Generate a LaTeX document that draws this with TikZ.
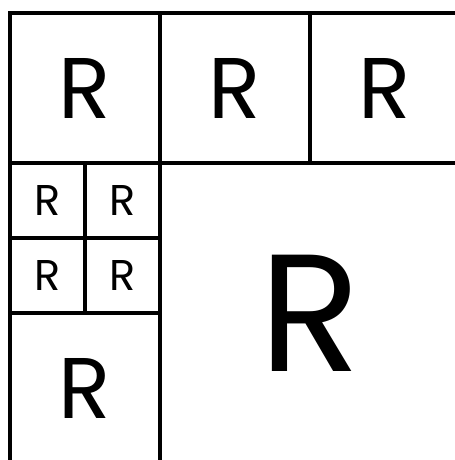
\documentclass[tikz,border=0pt]{standalone}
\usepackage{fontspec}
\setmainfont{Poppins}
\begin{document}
\begin{tikzpicture}[
  cell/.style={draw, line width=0.07cm, inner sep=0pt, minimum size=3cm},
  small/.style={cell, minimum size=1.5cm, font=\fontsize{24.5}{24.5}\selectfont},
  mid/.style={cell, font=\fontsize{49}{49}\selectfont},
  big/.style={cell, minimum size=6cm, font=\fontsize{95}{95}\selectfont}]
\useasboundingbox (-0.2,0.26) rectangle (8.9,-8.94);
% top row
\node[mid] (topleft) at (1.5,-1.5) {R};
\node[mid] (topmid) at (4.5,-1.5) {R};
\node[mid] (topright) at (7.5,-1.5) {R};
% little squares
\node[small] (sa) at (0.75,-3.75) {R};
\node[small] (sb) at (2.25,-3.75) {R};
\node[small] (sc) at (0.75,-5.25) {R};
\node[small] (sd) at (2.25,-5.25) {R};
\node[mid] (lowleft) at (1.5,-7.5) {R};
% the large one
\node[big] (large) at (6,-6) {R};
\end{tikzpicture}
\end{document}
